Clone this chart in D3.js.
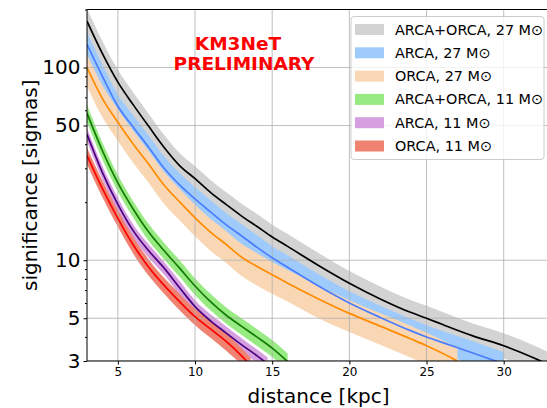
<!DOCTYPE html>
<html>
<head>
<meta charset="utf-8">
<script src="https://cdn.jsdelivr.net/npm/d3@7"></script>
<style>
  html, body { margin: 0; padding: 0; background: #fff; }
  svg { display: block; font-family: "DejaVu Sans", sans-serif; }
</style>
</head>
<body>
<svg id="chart" width="547" height="408"></svg>
<script>
// ---------------- data ----------------
const dist27AO = [3,4,5,6,7,8,9,10,11,12,13,14,15,16,18,20,22,24,25,26,28,30,32,33];
const sig27AO  = [174,118,84,64,49.5,38.5,31,26.5,22.5,19.5,17,15,13.2,11.8,9.4,7.6,6.3,5.35,5.0,4.65,4.05,3.6,3.1,2.85];
const hi27AO   = [202,137,97.4,74.2,57.4,44.7,36,30.7,26.1,22.6,19.7,17.4,15.3,13.7,10.9,8.8,7.3,6.2,5.8,5.4,4.7,4.18,3.6,3.3];
const lo27AO   = [150,101,72.2,55,42.6,33.1,26.7,22.8,19.4,16.8,14.6,12.9,11.4,10.1,8.1,6.5,5.4,4.6,4.3,4.0,3.48,3.1,2.67,2.45];

const dist27A = [3,4,5,6,7,8,9,10,11,12,13,14,15,16,18,20,22,24,25,26,28,30];
const sig27A  = [132,90,63,49,38.5,30,24.6,20.8,17.8,15.3,13.4,11.7,10.3,9.2,7.35,6.0,5.05,4.3,4.0,3.75,3.3,2.9];
const hi27A   = [152,103.5,72.5,56.4,44.3,34.5,28.3,23.9,20.5,17.6,15.4,13.5,11.8,10.6,8.45,6.9,5.8,4.95,4.6,4.3,3.8,3.33];
const lo27A   = [115,78.3,54.8,42.6,33.5,26.1,21.4,18.1,15.5,13.3,11.7,10.2,9.0,8.0,6.4,5.2,4.4,3.74,3.48,3.26,2.87,2.52];

const dist27O = [3,4,5,6,7,8,9,10,11,12,13,14,15,16,18,20,22,24,25,26,27];
const sig27O  = [100,69,52,40,31.5,24.5,20.1,16.6,14.0,12.1,10.4,9.3,8.4,7.6,6.3,5.3,4.55,3.9,3.6,3.3,3.0];
const hi27O   = [117,80.7,60.8,46.8,36.9,28.7,23.5,19.4,16.4,14.2,12.2,10.9,9.8,8.9,7.4,6.2,5.3,4.56,4.2,3.86,3.5];
const lo27O   = [80,55.2,41.6,32,25.2,19.6,16.1,13.3,11.2,9.7,8.3,7.4,6.7,6.1,5.0,4.24,3.64,3.12,2.88,2.64,2.4];

const dist11AO = [3,4,5,6,7,8,9,10,11,12,13,14,15,16];
const sig11AO  = [58,37,25.2,18.4,14.0,11.2,9.1,7.35,6.1,5.2,4.55,4.0,3.5,2.98];
const hi11AO   = [64,40.7,27.7,20.2,15.4,12.3,10.0,8.05,6.7,5.7,5.0,4.4,3.85,3.28];
const lo11AO   = [52.2,33.3,22.7,16.6,12.6,10.1,8.2,6.6,5.5,4.7,4.1,3.6,3.15,2.68];

const dist11A = [3,4,5,6,7,8,9,10,11,12,13,14,14.7];
const sig11A  = [45,28.5,19.5,14.2,11.2,9.1,7.2,5.75,4.85,4.2,3.65,3.2,2.9];
const hi11A   = [48.6,30.8,21.1,15.3,12.1,9.8,7.8,6.2,5.25,4.55,3.95,3.45,3.13];
const lo11A   = [41.4,26.2,17.9,13.1,10.3,8.4,6.6,5.3,4.46,3.86,3.36,2.94,2.67];

const dist11O = [3,4,5,6,7,8,9,10,11,12,13,13.6];
const sig11O  = [35,23.5,16.5,12.0,9.2,7.4,6.1,5.1,4.4,3.8,3.2,2.85];
const hi11O   = [38.5,25.9,18.2,13.2,10.1,8.1,6.7,5.6,4.85,4.2,3.5,3.13];
const lo11O   = [31.5,21.2,14.9,10.8,8.3,6.7,5.5,4.6,3.96,3.4,2.88,2.56];

const seriesLabels = ["ARCA+ORCA, 27 M\u2299","ARCA, 27 M\u2299","ORCA, 27 M\u2299",
                      "ARCA+ORCA, 11 M\u2299","ARCA, 11 M\u2299","ORCA, 11 M\u2299"];
const bandColors = ["#d3d3d3","#9ecbfb","#f9d7b5","#98ea82","#d6a0e0","#ef8270"];
const lineColors = ["#000000","#4a7dff","#ff8c00","#127d00","#4b0082","#ff0000"];

const xTicks = [5,10,15,20,25,30];
const yTicks = [3,5,10,50,100];
const yMinorTicks = [4,6,7,8,9,20,30,40,60,70,80,90,200];

const titleLines = ["KM3NeT","PRELIMINARY"];
const xLabel = "distance [kpc]";
const yLabel = "significance [sigmas]";

// ---------------- build ----------------
const series = [
  {d: dist27AO, v: sig27AO, hi: hi27AO, lo: lo27AO},
  {d: dist27A,  v: sig27A,  hi: hi27A,  lo: lo27A},
  {d: dist27O,  v: sig27O,  hi: hi27O,  lo: lo27O},
  {d: dist11AO, v: sig11AO, hi: hi11AO, lo: lo11AO},
  {d: dist11A,  v: sig11A,  hi: hi11A,  lo: lo11A},
  {d: dist11O,  v: sig11O,  hi: hi11O,  lo: lo11O}
];

const L = 87, R = 550, T = 9.5, B = 361;
const svg = d3.select("#chart");
const x = d3.scaleLinear().domain([3,33]).range([L,R]);
const y = d3.scaleLog().domain([3,200]).range([B,T]);

svg.append("defs").append("clipPath").attr("id","clip")
  .append("rect").attr("x",L).attr("y",T).attr("width",R-L).attr("height",B-T);

// bands
const bandGroup = svg.append("g").attr("clip-path","url(#clip)");
series.forEach((s,i) => {
  const pts = s.d.map((d,k) => ({d, hi: s.hi[k], lo: s.lo[k]}));
  const area = d3.area().x(p => x(p.d)).y0(p => y(p.lo)).y1(p => y(p.hi)).curve(d3.curveMonotoneX);
  bandGroup.append("path").datum(pts).attr("d", area).attr("fill", bandColors[i]).attr("stroke","none");
});

// grid
const grid = svg.append("g").attr("clip-path","url(#clip)");
xTicks.forEach(t => grid.append("line").attr("x1",x(t)).attr("x2",x(t)).attr("y1",T).attr("y2",B)
  .attr("stroke","#b0b0b0").attr("stroke-width",1).attr("opacity",0.8));
yTicks.forEach(t => grid.append("line").attr("x1",L).attr("x2",R).attr("y1",y(t)).attr("y2",y(t))
  .attr("stroke","#b0b0b0").attr("stroke-width",1).attr("opacity",0.8));

// lines
const lineGroup = svg.append("g").attr("clip-path","url(#clip)");
series.forEach((s,i) => {
  const pts = s.d.map((d,k) => ({d, v: s.v[k]}));
  const line = d3.line().x(p => x(p.d)).y(p => y(p.v)).curve(d3.curveMonotoneX);
  lineGroup.append("path").datum(pts).attr("d", line).attr("fill","none")
    .attr("stroke", lineColors[i]).attr("stroke-width", 1.7);
});

// axes
const xAxis = d3.axisBottom(x).tickValues(xTicks).tickSize(3.5).tickPadding(3).tickFormat(d3.format("d"));
const gx = svg.append("g").attr("transform",`translate(0,${B})`).call(xAxis);
gx.select(".domain").remove();
gx.selectAll("text").attr("font-size", 12).attr("fill","#000").attr("font-family","DejaVu Sans");
gx.selectAll("line").attr("stroke","#000");

const yAxis = d3.axisLeft(y).tickValues(yTicks).tickSize(3.5).tickPadding(3).tickFormat(d3.format("d"));
const gy = svg.append("g").attr("transform",`translate(${L},0)`).call(yAxis);
gy.select(".domain").remove();
gy.selectAll("text").attr("font-size", 20).attr("fill","#000").attr("font-family","DejaVu Sans");
gy.selectAll("line").attr("stroke","#000");

const yMinor = d3.axisLeft(y).tickValues(yMinorTicks).tickSize(2).tickFormat("");
const gym = svg.append("g").attr("transform",`translate(${L},0)`).call(yMinor);
gym.select(".domain").remove();
gym.selectAll("line").attr("stroke","#000");

// spines
svg.append("line").attr("x1",L).attr("x2",L).attr("y1",T).attr("y2",B).attr("stroke","#000").attr("stroke-width",1);
svg.append("line").attr("x1",L).attr("x2",R).attr("y1",B).attr("y2",B).attr("stroke","#000").attr("stroke-width",1);
svg.append("line").attr("x1",L).attr("x2",R).attr("y1",T).attr("y2",T).attr("stroke","#000").attr("stroke-width",1);
svg.append("line").attr("x1",R).attr("x2",R).attr("y1",T).attr("y2",B).attr("stroke","#000").attr("stroke-width",1);

// labels
svg.append("text").attr("x",(L+R)/2).attr("y",403).attr("text-anchor","middle")
  .attr("font-size",20).attr("fill","#000").text(xLabel);
svg.append("text").attr("transform",`translate(30,${(T+B)/2}) rotate(-90)`).attr("text-anchor","middle")
  .attr("dominant-baseline","central").attr("font-size",20).attr("fill","#000").text(yLabel);

// title
svg.append("text").attr("x",238).attr("y",49.5).attr("text-anchor","middle")
  .attr("font-size",18.5).attr("font-weight","bold").attr("fill","#ff0000").text(titleLines[0]);
svg.append("text").attr("x",244).attr("y",69.5).attr("text-anchor","middle")
  .attr("font-size",18.5).attr("font-weight","bold").attr("fill","#ff0000").text(titleLines[1]);

// legend
const lg = svg.append("g");
lg.append("rect").attr("x",351).attr("y",16.5).attr("width",193).attr("height",143).attr("rx",3)
  .attr("fill","#fff").attr("fill-opacity",0.8).attr("stroke","#cccccc").attr("stroke-width",1);
seriesLabels.forEach((lab,i) => {
  const cy = 29.5 + i*23.3;
  lg.append("rect").attr("x",355).attr("y",cy-5.5).attr("width",29).attr("height",11).attr("fill",bandColors[i]);
  lg.append("text").attr("x",395).attr("y",cy).attr("dominant-baseline","central")
    .attr("font-size",14.4).attr("fill","#000").text(lab);
});
</script>
</body>
</html>
